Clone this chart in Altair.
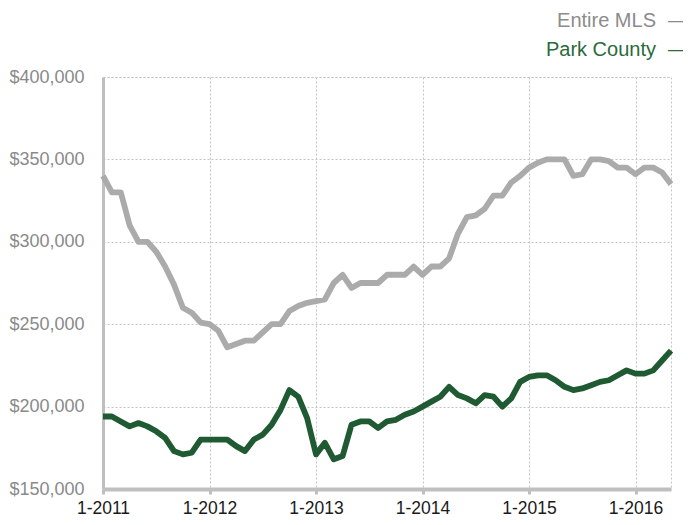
import altair as alt
import pandas as pd

# Monthly values, Jan 2011 .. May 2016 (in $1000s)
months = list(range(65))
entire_mls = [340, 330, 330, 310, 300, 300, 294, 285, 274, 260,
              257, 251, 250, 246, 236, 238, 240, 240, 245, 250,
              250, 258, 261, 263, 264, 265, 275, 280, 272, 275,
              275, 275, 280, 280, 280, 285, 280, 285, 285, 290,
              305, 315, 316, 320, 328, 328, 336, 340, 345, 348,
              350, 350, 350, 340, 341, 350, 350, 349, 345, 345,
              341, 345, 345, 342, 335]
park_county = [194, 194, 191, 188, 190, 188, 185, 181, 173, 171,
               172, 180, 180, 180, 180, 176, 173, 180, 183, 189,
               198, 210, 206, 193, 171, 178, 168, 170, 189, 191,
               191, 187, 191, 192, 195, 197, 200, 203, 206, 212,
               207, 205, 202, 207, 206, 200, 205, 215, 218, 219,
               219, 216, 212, 210, 211, 213, 215, 216, 219, 222,
               220, 220, 222, 228, 234]
series_names = ["Entire MLS", "Park County"]
series_colors = ["#ababab", "#1f5a32"]
legend_colors = ["#8c8c8c", "#2b6a3c"]
x_tick_months = [0, 12, 24, 36, 48, 60]
y_ticks = [150000, 200000, 250000, 300000, 350000, 400000]

df = pd.DataFrame({
    "m": months * 2,
    "price": [v * 1000 for v in entire_mls] + [v * 1000 for v in park_county],
    "series": [series_names[0]] * len(months) + [series_names[1]] * len(months),
})

lines = alt.Chart(df).mark_line(strokeWidth=5.8, strokeJoin="round").encode(
    x=alt.X("m:Q",
            scale=alt.Scale(domain=[0, 64], nice=False, zero=False),
            axis=alt.Axis(values=x_tick_months,
                          labelExpr="'1-' + (2011 + datum.value / 12)",
                          title=None, grid=True, gridDash=[2, 2], gridColor="#c4c4c4",
                          domainColor="#bfbfbf", domainWidth=4,
                          tickColor="#bfbfbf", tickWidth=3, tickSize=5,
                          labelColor="#1a1a1a", labelFontSize=17.5, labelPadding=5,
                          labelFlush=False)),
    y=alt.Y("price:Q",
            scale=alt.Scale(domain=[150000, 400000], nice=False, zero=False),
            axis=alt.Axis(values=y_ticks, format="$,.0f", title=None,
                          grid=True, gridDash=[2, 2], gridColor="#c4c4c4",
                          domainColor="#bfbfbf", domainWidth=3,
                          ticks=False, labelColor="#8a8a8a", labelFontSize=18,
                          labelPadding=19)),
    color=alt.Color("series:N",
                    scale=alt.Scale(domain=series_names, range=series_colors),
                    legend=None),
)

one = pd.DataFrame({"k": [0]})


def legend_item(name, color, ypos):
    label = alt.Chart(one).mark_text(
        text=name, align="right", baseline="middle", fontSize=20, color=color
    ).encode(x=alt.value(553), y=alt.value(ypos))
    dash = alt.Chart(one).mark_text(
        text="—", align="center", baseline="middle", fontSize=16, color=color
    ).encode(x=alt.value(573), y=alt.value(ypos))
    return label + dash


chart = alt.layer(
    lines,
    legend_item(series_names[0], legend_colors[0], -56),
    legend_item(series_names[1], legend_colors[1], -27),
).properties(
    width=568, height=412,
    autosize=alt.AutoSizeParams(type="none"),
    padding={"left": 95, "top": 69, "right": 12, "bottom": 28},
).configure(
    font="Liberation Sans"
).configure_view(
    stroke="#c4c4c4", strokeDash=[2, 2], strokeWidth=1
)

chart.save("out.html", embed_options={"renderer": "svg", "actions": False})
